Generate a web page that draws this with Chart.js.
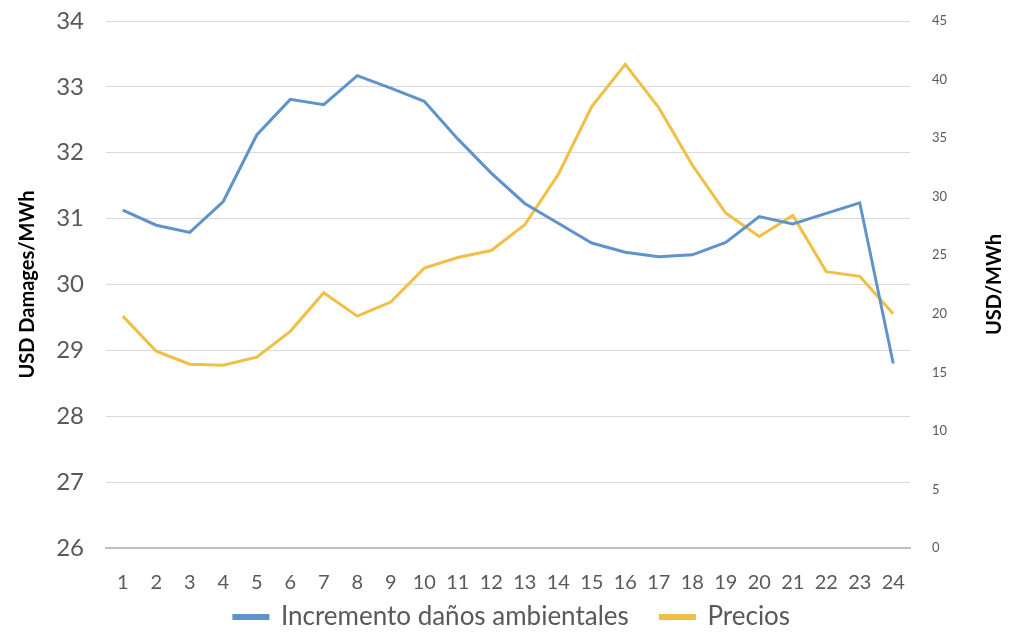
<!DOCTYPE html>
<html>
<head>
<meta charset="utf-8">
<script src="https://cdn.jsdelivr.net/npm/chart.js@4"></script>
<style>
  html, body { margin: 0; padding: 0; background: #fff; }
  #wrap { width: 1024px; height: 640px; }
</style>
</head>
<body>
<div id="wrap"><canvas id="chart"></canvas></div>
<script>
const hours = ['1','2','3','4','5','6','7','8','9','10','11','12','13','14','15','16','17','18','19','20','21','22','23','24'];
const damages = [31.13, 30.90, 30.79, 31.26, 32.27, 32.81, 32.73, 33.17, 32.98, 32.78, 32.21, 31.69,
                 31.23, 30.93, 30.63, 30.49, 30.42, 30.45, 30.64, 31.03, 30.92, 31.08, 31.24, 28.80];
const prices = [19.8, 16.8, 15.7, 15.6, 16.3, 18.5, 21.8, 19.8, 21.0, 23.9, 24.8, 25.4,
                27.6, 31.9, 37.7, 41.3, 37.6, 32.7, 28.6, 26.6, 28.4, 23.6, 23.2, 20.0];

const fontFamily = 'Lato, "Open Sans", sans-serif';

// right axis title reads bottom-to-top, so draw it ourselves
const rightTitle = {
    id: 'rightTitle',
    afterDraw(chart) {
        const c = chart.ctx;
        const area = chart.chartArea;
        c.save();
        c.translate(995, (area.top + area.bottom) / 2);
        c.rotate(-Math.PI / 2);
        c.font = 'bold 20px ' + fontFamily;
        c.fillStyle = '#000';
        c.textAlign = 'center';
        c.textBaseline = 'middle';
        c.fillText('USD/MWh', 0, 0);
        c.restore();
    }
};

const ctx = document.getElementById('chart').getContext('2d');
new Chart(ctx, {
    type: 'line',
    data: {
        labels: hours,
        datasets: [{
            label: 'Incremento daños ambientales',
            data: damages,
            borderColor: '#5f93cc',
            backgroundColor: '#5f93cc',
            borderWidth: 3,
            pointRadius: 0,
            tension: 0,
            yAxisID: 'y'
        }, {
            label: 'Precios',
            data: prices,
            borderColor: '#f0bf45',
            backgroundColor: '#f0bf45',
            borderWidth: 3,
            pointRadius: 0,
            tension: 0,
            yAxisID: 'y1'
        }]
    },
    options: {
        responsive: true,
        maintainAspectRatio: false,
        animation: false,
        layout: { padding: { top: 21, left: 0, right: 0, bottom: 0 } },
        plugins: {
            tooltip: { enabled: false },
            legend: {
                position: 'bottom',
                labels: {
                    font: { family: fontFamily, size: 26 },
                    color: '#595959',
                    boxWidth: 34,
                    boxHeight: 3,
                    padding: 5,
                    generateLabels(chart) {
                        const items = Chart.defaults.plugins.legend.labels.generateLabels(chart);
                        // a little extra room after the first entry, like the original
                        items[0].text += '\u00a0\u00a0\u00a0\u00a0';
                        return items;
                    }
                }
            }
        },
        scales: {
            x: {
                offset: true,
                grid: { display: false, drawTicks: false },
                border: { display: true, color: '#bfbfbf', width: 2 },
                ticks: {
                    font: { family: fontFamily, size: 20 },
                    color: '#595959',
                    maxRotation: 0,
                    autoSkip: false,
                    padding: 23
                },
                afterFit(scale) { scale.height = 51; }
            },
            y: {
                position: 'left',
                min: 26,
                max: 34,
                ticks: {
                    stepSize: 1,
                    font: { family: fontFamily, size: 24 },
                    color: '#595959',
                    padding: 22
                },
                grid: { color: '#d9d9d9', lineWidth: 1, drawTicks: false },
                border: { display: false },
                title: {
                    display: true,
                    text: 'USD Damages/MWh',
                    font: { family: fontFamily, size: 20, weight: 'bold' },
                    color: '#000',
                    padding: { top: 16, bottom: 0 }
                },
                afterFit(scale) {
                    scale.width = 106;
                    scale.paddingTop = 0;
                    scale.paddingBottom = 0;
                }
            },
            y1: {
                position: 'right',
                min: 0,
                max: 45,
                ticks: {
                    stepSize: 5,
                    font: { family: fontFamily, size: 13 },
                    color: '#595959',
                    padding: 22
                },
                grid: { display: false, drawTicks: false },
                border: { display: false },
                afterFit(scale) {
                    scale.width = 114;
                    scale.paddingTop = 0;
                    scale.paddingBottom = 0;
                }
            }
        }
    },
    plugins: [rightTitle]
});
</script>
</body>
</html>
